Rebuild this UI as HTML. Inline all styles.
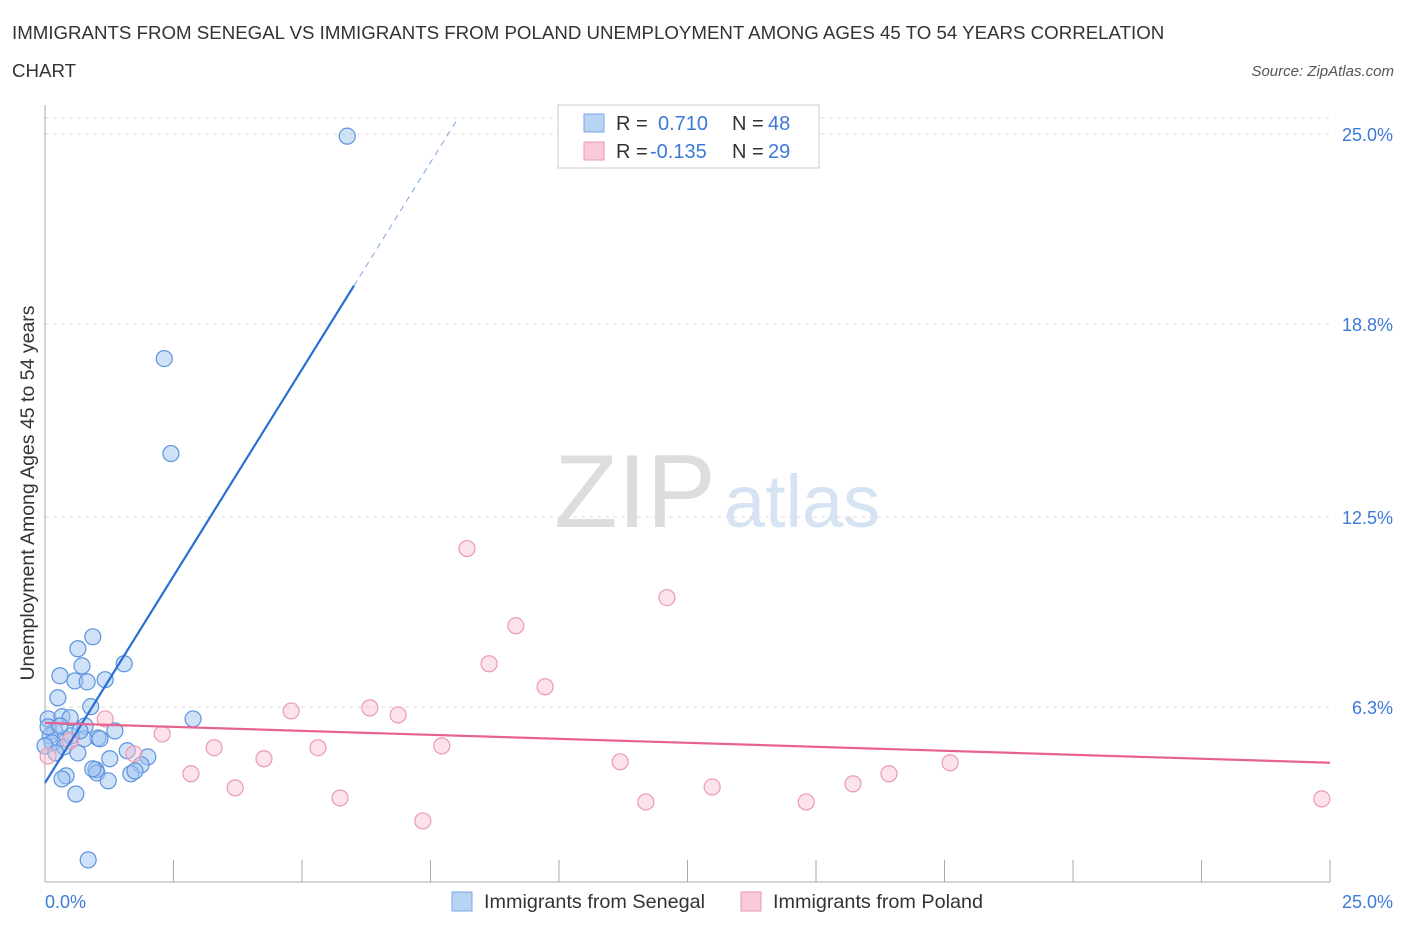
<!DOCTYPE html>
<html><head><meta charset="utf-8"><style>
body{margin:0;background:#fff;font-family:"Liberation Sans",sans-serif;}
svg text{font-family:"Liberation Sans",sans-serif;}
</style></head><body>
<svg id="chart" width="1406" height="930" xmlns="http://www.w3.org/2000/svg">
<text x="12" y="39" font-size="18.7" fill="#333">IMMIGRANTS FROM SENEGAL VS IMMIGRANTS FROM POLAND UNEMPLOYMENT AMONG AGES 45 TO 54 YEARS CORRELATION</text>
<text x="12" y="77" font-size="18.7" fill="#333">CHART</text>
<text x="1394" y="76" font-size="15" fill="#555" text-anchor="end" font-style="italic">Source: ZipAtlas.com</text>
<text transform="translate(34,493) rotate(-90)" font-size="19.5" fill="#333" text-anchor="middle">Unemployment Among Ages 45 to 54 years</text>
<g><text x="635" y="527" font-size="104" fill="#ddd" font-family="Liberation Serif" text-anchor="middle">ZIP</text><text x="802" y="527" font-size="74" fill="#d5e3f3" text-anchor="middle">atlas</text></g>
<g id="grid"></g><g id="marks"></g>
<g>
<rect x="558" y="105" width="261" height="63" fill="#fff" stroke="#ccc"/>
<rect x="584" y="114" width="20" height="18" fill="#b9d3f5" stroke="#7aa7e3"/>
<text x="616" y="130" font-size="20" fill="#333">R = </text><text x="658" y="130" font-size="20" fill="#3d79d8">0.710</text>
<text x="732" y="130" font-size="20" fill="#333">N = </text><text x="768" y="130" font-size="20" fill="#3d79d8">48</text>
<rect x="584" y="142" width="20" height="18" fill="#f9c9d7" stroke="#e99ab2"/>
<text x="616" y="158" font-size="20" fill="#333">R = </text><text x="650" y="158" font-size="20" fill="#3d79d8">-0.135</text>
<text x="732" y="158" font-size="20" fill="#333">N = </text><text x="768" y="158" font-size="20" fill="#3d79d8">29</text>
</g>
<g>
<rect x="452" y="892" width="20" height="19" fill="#b9d3f5" stroke="#7aa7e3"/>
<text x="484" y="908" font-size="19.8" fill="#333">Immigrants from Senegal</text>
<rect x="741" y="892" width="20" height="19" fill="#f9c9d7" stroke="#e99ab2"/>
<text x="773" y="908" font-size="19.8" fill="#333">Immigrants from Poland</text>
</g>
</svg>
<script>
const yTicks=[25.0,18.8,12.5,6.3];
const yTickLabels=["25.0%","18.8%","12.5%","6.3%"];
const senegalX=[5.88,2.32,2.45,0.93,0.64,0.72,1.54,0.29,0.58,0.82,1.17,0.25,0.89,2.88,0.06,0.33,0.49,0.78,0.19,0.10,0.39,1.03,0.76,0.14,0.37,0.64,1.60,2.00,1.26,0.99,1.01,1.87,1.67,0.93,0.41,0.33,1.23,0.60,0.84,0.06,0.00,0.21,1.07,0.51,0.29,0.68,1.36,1.75];
const senegalY=[24.93,17.67,14.57,8.59,8.20,7.64,7.71,7.32,7.15,7.12,7.19,6.60,6.31,5.91,5.91,5.98,5.95,5.68,5.52,5.36,5.26,5.29,5.26,5.13,5.00,4.80,4.87,4.67,4.61,4.25,4.15,4.41,4.12,4.28,4.05,3.95,3.89,3.46,1.31,5.65,5.03,4.80,5.26,5.36,5.68,5.52,5.52,4.21];
const polandX=[8.21,12.10,9.16,8.64,9.73,4.79,6.32,6.87,1.17,2.28,3.29,5.31,7.72,1.73,4.26,11.19,17.61,2.84,16.42,3.70,15.72,12.98,5.74,11.69,14.81,24.84,7.35,0.06,0.49];
const polandY=[11.47,9.87,8.95,7.71,6.96,6.17,6.27,6.04,5.91,5.42,4.97,4.97,5.03,4.77,4.61,4.51,4.48,4.12,4.12,3.66,3.79,3.69,3.33,3.20,3.20,3.30,2.58,4.70,5.19];
const senegalTrend=[3.82,2.70]; // intercept, slope
const senegalTrendEnd=[6.01,8.0];
const polandTrend=[5.78,-0.052];
const NS="http://www.w3.org/2000/svg";
const X=v=>45+v/25*1285, Y=v=>900-v/6.25*191.5;
function mk(t,a,p){const e=document.createElementNS(NS,t);for(const k in a)e.setAttribute(k,a[k]);p.appendChild(e);return e;}
const g=document.getElementById('grid'), m=document.getElementById('marks');
mk('line',{x1:45,y1:118,x2:1330,y2:118,stroke:'#ddd','stroke-dasharray':'4,4'},g);
yTicks.forEach((t,i)=>{
 const l=mk('line',{x1:45,y1:Y(t),x2:1330,y2:Y(t),stroke:'#ddd','stroke-dasharray':'4,4'},g);
 
 
 const tx=mk('text',{x:1393,y:Y(t)+7,'font-size':18,fill:'#3d79d8','text-anchor':'end'},g);tx.textContent=yTickLabels[i];
 
 
});
mk('line',{x1:45,y1:105,x2:45,y2:882,stroke:'#aaa'},g);
mk('line',{x1:45,y1:882,x2:1330,y2:882,stroke:'#aaa'},g);
for(let i=0;i<=10;i++){const l=mk('line',{x1:X(i*2.5),y1:860,x2:X(i*2.5),y2:882,stroke:'#aaa'},g);
 
 }
let t1=mk('text',{x:45,y:908,'font-size':18,fill:'#3d79d8'},g);t1.textContent='0.0%';


let t2=mk('text',{x:1393,y:908,'font-size':18,fill:'#3d79d8','text-anchor':'end'},g);t2.textContent='25.0%';


senegalX.forEach((x,i)=>{const c=mk('circle',{cx:X(x),cy:Y(senegalY[i]),r:8,fill:'rgba(160,196,240,0.5)',stroke:'#5b93de','stroke-width':1.2},m);
 
 });
polandX.forEach((x,i)=>{const c=mk('circle',{cx:X(x),cy:Y(polandY[i]),r:8,fill:'rgba(248,190,208,0.45)',stroke:'#eb9ab3','stroke-width':1.2},m);
 
 });
const sy=x=>senegalTrend[0]+senegalTrend[1]*x;
let l1=mk('line',{x1:X(0),y1:Y(sy(0)),x2:X(senegalTrendEnd[0]),y2:Y(sy(senegalTrendEnd[0])),stroke:'#2a6fd6','stroke-width':2.2},m);


let l2=mk('line',{x1:X(senegalTrendEnd[0]),y1:Y(sy(senegalTrendEnd[0])),x2:X(senegalTrendEnd[1]),y2:Y(sy(senegalTrendEnd[1])),stroke:'#7aa7e3','stroke-width':1,'stroke-dasharray':'6,5'},m);


const py=x=>polandTrend[0]+polandTrend[1]*x;
let l3=mk('line',{x1:X(0),y1:Y(py(0)),x2:X(25),y2:Y(py(25)),stroke:'#e8628e','stroke-width':2.2},m);


</script>
</body></html>
